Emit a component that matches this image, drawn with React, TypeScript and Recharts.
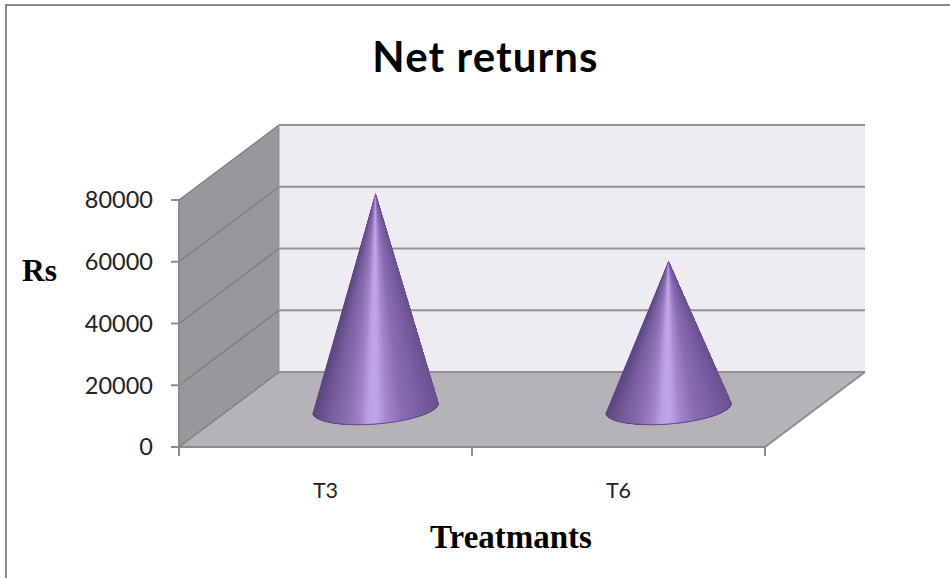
import React from "react";
import { BarChart, Bar, XAxis, YAxis, ReferenceArea, Label } from "recharts";

const categories = ["T3", "T6"];
const netReturns = [69500, 47500];
const yTicks = [0, 20000, 40000, 60000, 80000];

const chartData = categories.map((name, i) => ({ name, value: netReturns[i] }));

const GREY = "#8c8c8c";
const GRID = "#929292";
// offset of the back wall from the front plane
const DEPTH_X = 100;
const DEPTH_Y = 75;
const Y_MAX = 80000;

const shadeStops: [number, number[]][] = [
  [0, [106, 82, 146]],
  [0.15, [122, 96, 164]],
  [0.3, [138, 108, 180]],
  [0.42, [164, 134, 208]],
  [0.5, [192, 164, 234]],
  [0.56, [190, 162, 232]],
  [0.64, [160, 130, 202]],
  [0.74, [138, 110, 176]],
  [0.87, [120, 94, 158]],
  [1, [92, 70, 128]],
];

const shade = (p: number) => {
  for (let i = 1; i < shadeStops.length; i++) {
    const [p1, c1] = shadeStops[i];
    if (p <= p1) {
      const [p0, c0] = shadeStops[i - 1];
      const k = (p - p0) / (p1 - p0);
      const c = c0.map((v, j) => Math.round(v + (c1[j] - v) * k));
      return `rgb(${c[0]},${c[1]},${c[2]})`;
    }
  }
  return "rgb(92,70,128)";
};

// Box walls, floor, gridlines and the tick marks between categories
const Walls = ({ x, y, width, height }: any) => {
  const bottom = y + height;
  const right = x + width;
  const levelY = (v: number) => bottom - (height * v) / Y_MAX;
  return (
    <g>
      <polygon
        points={`${x + DEPTH_X},${y - DEPTH_Y} ${right + DEPTH_X},${y - DEPTH_Y} ${right + DEPTH_X},${bottom - DEPTH_Y} ${x + DEPTH_X},${bottom - DEPTH_Y}`}
        fill="#eeecf2"
      />
      <polygon
        points={`${x},${y} ${x + DEPTH_X},${y - DEPTH_Y} ${x + DEPTH_X},${bottom - DEPTH_Y} ${x},${bottom}`}
        fill="#98979b"
      />
      <polygon
        points={`${x},${bottom} ${x + DEPTH_X},${bottom - DEPTH_Y} ${right + DEPTH_X},${bottom - DEPTH_Y} ${right},${bottom}`}
        fill="#b5b3b8"
      />
      {yTicks.map((v) => {
        const ly = levelY(v);
        return (
          <g key={v} fill="none">
            <line x1={x} y1={ly} x2={x + DEPTH_X} y2={ly - DEPTH_Y} stroke="#7f7f7f" strokeWidth={1.4} />
            <line x1={x + DEPTH_X} y1={ly - DEPTH_Y} x2={right + DEPTH_X} y2={ly - DEPTH_Y} stroke={GRID} strokeWidth={2} />
          </g>
        );
      })}
      <line x1={x + DEPTH_X} y1={y - DEPTH_Y} x2={x + DEPTH_X} y2={bottom - DEPTH_Y} stroke={GRID} strokeWidth={1} />
      <line x1={right} y1={bottom} x2={right + DEPTH_X} y2={bottom - DEPTH_Y} stroke={GREY} strokeWidth={2} />
      {[0, 0.5, 1].map((f) => (
        <line
          key={f}
          x1={x + width * f}
          y1={bottom}
          x2={x + width * f}
          y2={bottom + 9}
          stroke={GREY}
          strokeWidth={2}
        />
      ))}
    </g>
  );
};

// Shaded cone standing halfway back on the floor
const Cone = ({ x, y, width, height }: any) => {
  const cx = x + width / 2 + DEPTH_X / 2;
  const cy = y + height - 39;
  const apexY = y - 39;
  const rx = 63;
  const ry = 16;
  const tilt = (-4.6 * Math.PI) / 180;
  const rim = (t: number) => {
    const a = rx * Math.cos(t);
    const b = ry * Math.sin(t);
    return `${cx + a * Math.cos(tilt) - b * Math.sin(tilt)},${cy + a * Math.sin(tilt) + b * Math.cos(tilt)}`;
  };
  const n = 72;
  const angles = Array.from({ length: n + 1 }, (_, i) => Math.PI - (Math.PI * i) / n);
  // each slice also covers the rest of the cone, so the next one paints over it without seams
  const slices = angles.slice(0, n).map((t, i) => (
    <polygon
      key={i}
      points={`${cx},${apexY} ${angles.slice(i).map(rim).join(" ")}`}
      fill={shade((1 - Math.cos(t - Math.PI / (2 * n))) / 2)}
    />
  ));
  return (
    <g>
      {slices}
      <polyline points={angles.map(rim).join(" ")} fill="none" stroke="#5a4388" strokeWidth={1} />
    </g>
  );
};

const App = () => {
  return (
    <div style={{ position: "absolute", left: 0, top: 0, width: 950, height: 578, background: "#fff" }}>
      <BarChart
        width={950}
        height={578}
        data={chartData}
        margin={{ top: 200, right: 185, bottom: 41, left: 79 }}
        barCategoryGap={0}
      >
        <rect x={6} y={5} width={960} height={600} fill="none" stroke={GREY} strokeWidth={2} />
        <text
          x={485.5}
          y={72}
          textAnchor="middle"
          fontFamily="Lato"
          fontWeight={700}
          fontSize={42}
          letterSpacing={1.1}
          fill="#000"
        >
          Net returns
        </text>
        <ReferenceArea x1="T3" x2="T6" y1={0} y2={Y_MAX} shape={Walls} ifOverflow="visible" />
        <XAxis
          dataKey="name"
          height={90}
          tickLine={false}
          tickSize={0}
          tickMargin={36}
          axisLine={{ stroke: GREY, strokeWidth: 2 }}
          tick={{ fontFamily: "Lato", fontSize: 21.5, fill: "#222" }}
        >
          <Label
            value="Treatmants"
            position="insideBottom"
            offset={18}
            dx={39}
            dy={29}
            style={{ fontFamily: "Liberation Serif", fontWeight: 700, fontSize: 33, fill: "#000" }}
          />
        </XAxis>
        <YAxis
          width={100}
          domain={[0, Y_MAX]}
          ticks={yTicks}
          tickSize={8}
          tickMargin={18}
          interval={0}
          axisLine={{ stroke: GREY, strokeWidth: 2 }}
          tickLine={{ stroke: GREY, strokeWidth: 2 }}
          tick={{ fontFamily: "Lato", fontSize: 23.5, fill: "#222" }}
        />
        <text
          x={39.5}
          y={281}
          textAnchor="middle"
          fontFamily="Liberation Serif"
          fontWeight={700}
          fontSize={31.5}
          fill="#000"
        >
          Rs
        </text>
        <Bar dataKey="value" isAnimationActive={false} shape={Cone} fill="#8a6cb2" />
      </BarChart>
    </div>
  );
};

export default App;
